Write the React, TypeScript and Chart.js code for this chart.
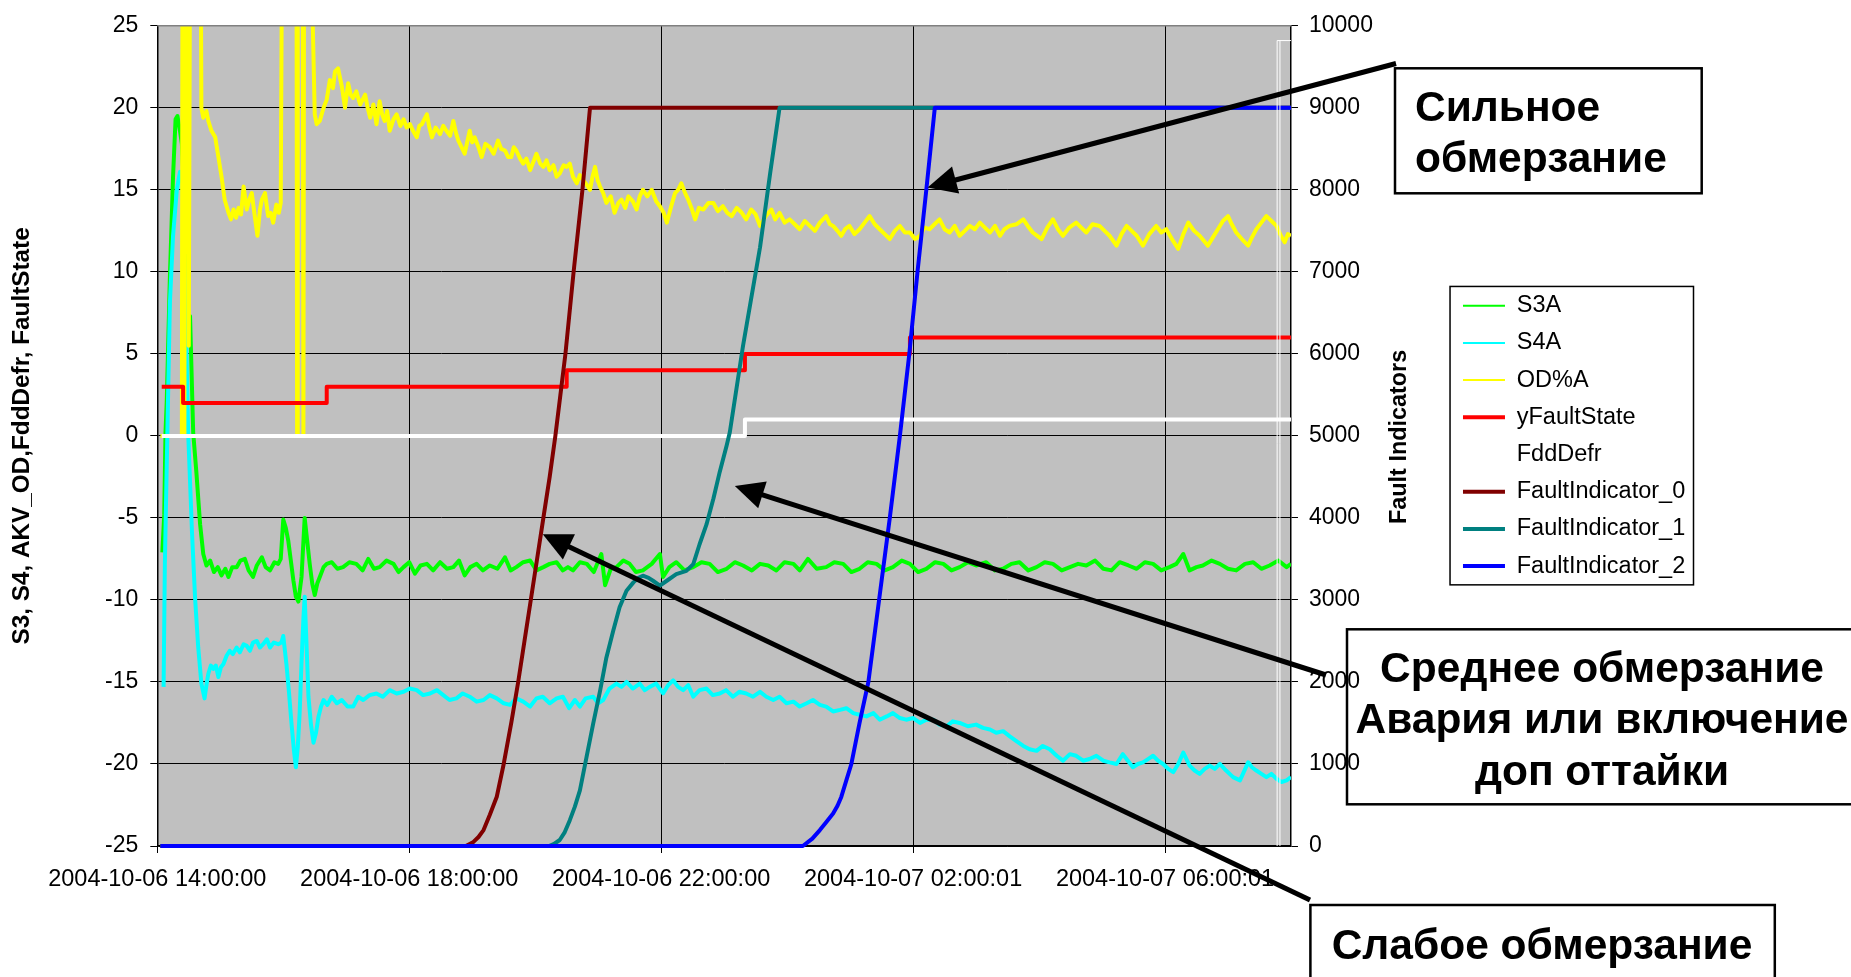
import React, { useEffect, useRef } from 'react';
import { Chart, registerables } from 'chart.js';

Chart.register(...registerables);

// ---- x axis (hours after 2004-10-06 14:00:00) ----
const xTickHours = [0, 4, 8, 12, 16];
const xTickLabels = [
  '2004-10-06 14:00:00',
  '2004-10-06 18:00:00',
  '2004-10-06 22:00:00',
  '2004-10-07 02:00:01',
  '2004-10-07 06:00:01',
];

// ---- series (hour, value) ----
const s3a: [number, number][] = [
  [0.08,-7.1],[0.11,-4.8],[0.13,0.2],[0.15,2.1],[0.2,9.7],[0.25,15.8],[0.29,19.3],[0.32,19.5],[0.36,18.6],[0.39,17.8],
  [0.43,14.5],[0.47,10.1],[0.49,5.7],[0.52,7.3],[0.57,0.2],[0.62,-2.2],[0.68,-5.4],[0.73,-7.2],[0.78,-7.9],[0.84,-7.6],
  [0.9,-8.3],[0.96,-8.0],[1.02,-8.5],[1.08,-8.1],[1.13,-8.6],[1.19,-8.0],[1.26,-8.0],[1.32,-7.6],[1.39,-7.5],[1.45,-8.2],
  [1.52,-8.6],[1.58,-7.9],[1.66,-7.4],[1.72,-8.0],[1.79,-8.2],[1.86,-7.7],[1.92,-7.8],[1.96,-7.5],[2.0,-5.1],[2.04,-5.6],
  [2.08,-6.4],[2.12,-7.6],[2.16,-8.8],[2.2,-9.8],[2.24,-10.1],[2.27,-9.2],[2.29,-8.6],[2.34,-5.0],[2.38,-6.4],[2.42,-7.8],
  [2.46,-9.0],[2.5,-9.7],[2.54,-9.0],[2.58,-8.6],[2.64,-8.0],[2.69,-7.8],[2.77,-7.7],[2.86,-8.1],[2.95,-8.0],[3.05,-7.7],
  [3.16,-7.8],[3.26,-8.2],[3.35,-7.5],[3.44,-8.1],[3.53,-8.0],[3.64,-7.6],[3.75,-7.8],[3.83,-8.3],[3.91,-8.0],[4.0,-7.7],
  [4.09,-8.4],[4.18,-7.9],[4.28,-7.8],[4.38,-8.2],[4.49,-7.7],[4.6,-8.1],[4.7,-8.0],[4.79,-7.6],[4.88,-8.5],[4.97,-8.0],
  [5.07,-7.8],[5.17,-8.2],[5.28,-7.9],[5.4,-8.1],[5.52,-7.4],[5.61,-8.2],[5.7,-8.0],[5.81,-7.7],[5.92,-7.6],[6.02,-8.2],
  [6.13,-8.0],[6.23,-7.8],[6.34,-7.7],[6.44,-8.2],[6.52,-8.0],[6.6,-8.2],[6.71,-7.7],[6.82,-7.8],[6.93,-8.3],[7.05,-7.2],
  [7.11,-9.1],[7.2,-8.1],[7.29,-8.0],[7.4,-7.6],[7.5,-7.8],[7.6,-8.3],[7.71,-8.2],[7.85,-7.8],[7.98,-7.2],[8.03,-8.6],
  [8.13,-8.0],[8.24,-7.7],[8.37,-8.2],[8.51,-8.0],[8.64,-7.7],[8.77,-7.8],[8.9,-8.3],[9.04,-8.1],[9.17,-7.7],[9.3,-7.9],
  [9.44,-8.2],[9.57,-7.8],[9.7,-7.9],[9.83,-8.2],[9.96,-7.7],[10.1,-7.8],[10.2,-8.2],[10.33,-7.5],[10.47,-8.1],[10.62,-8.0],
  [10.75,-7.7],[10.89,-7.8],[11.02,-8.3],[11.15,-8.1],[11.28,-7.7],[11.42,-7.8],[11.55,-8.2],[11.68,-8.0],[11.82,-7.6],[11.95,-7.8],
  [12.08,-8.3],[12.21,-8.1],[12.35,-7.7],[12.48,-7.8],[12.61,-8.2],[12.74,-8.0],[12.87,-7.7],[13.0,-7.9],[13.16,-7.7],[13.3,-8.2],
  [13.43,-8.1],[13.56,-7.8],[13.69,-7.7],[13.83,-8.2],[13.96,-8.0],[14.09,-7.7],[14.22,-7.8],[14.36,-8.2],[14.49,-8.0],[14.62,-7.8],
  [14.75,-7.9],[14.89,-7.6],[15.02,-8.1],[15.15,-8.2],[15.28,-7.7],[15.42,-7.9],[15.55,-8.1],[15.68,-7.7],[15.81,-7.8],[15.94,-8.2],
  [16.07,-8.0],[16.18,-7.8],[16.29,-7.2],[16.39,-8.2],[16.5,-8.0],[16.6,-7.9],[16.74,-7.6],[16.87,-7.8],[17.0,-8.1],[17.13,-8.2],
  [17.27,-7.8],[17.4,-7.7],[17.53,-8.1],[17.66,-7.9],[17.8,-7.6],[17.93,-8.0],[18.0,-7.8],
];

const s4a: [number, number][] = [
  [0.1,-15.3],[0.12,-7.8],[0.16,0.2],[0.2,8.1],[0.25,12.2],[0.31,15.0],[0.36,16.1],[0.4,15.4],[0.44,9.5],[0.49,0.2],
  [0.55,-5.8],[0.6,-9.9],[0.65,-12.9],[0.7,-15.1],[0.75,-16.0],[0.78,-15.2],[0.81,-14.5],[0.85,-14.0],[0.89,-14.2],[0.93,-14.0],
  [0.97,-14.7],[1.01,-14.1],[1.05,-13.9],[1.1,-13.4],[1.15,-13.1],[1.2,-13.3],[1.26,-12.9],[1.31,-13.2],[1.37,-12.7],[1.42,-12.8],
  [1.47,-13.1],[1.52,-12.6],[1.58,-12.5],[1.63,-12.9],[1.68,-12.7],[1.74,-12.4],[1.79,-12.9],[1.85,-12.6],[1.92,-12.7],[1.97,-12.6],
  [2.0,-12.2],[2.05,-13.9],[2.09,-15.6],[2.13,-17.5],[2.17,-19.2],[2.2,-20.2],[2.23,-19.0],[2.26,-16.9],[2.29,-13.8],[2.32,-11.1],
  [2.34,-9.8],[2.37,-12.8],[2.4,-15.9],[2.44,-17.6],[2.48,-18.7],[2.52,-18.1],[2.56,-17.1],[2.6,-16.5],[2.64,-16.1],[2.7,-16.4],
  [2.77,-15.9],[2.85,-16.3],[2.93,-16.1],[3.02,-16.5],[3.11,-16.5],[3.19,-15.9],[3.27,-16.1],[3.37,-15.8],[3.48,-15.7],[3.58,-15.9],
  [3.69,-15.5],[3.8,-15.7],[3.91,-15.6],[4.01,-15.4],[4.12,-15.5],[4.22,-15.8],[4.33,-15.7],[4.44,-15.5],[4.54,-15.8],[4.64,-16.1],
  [4.75,-16.0],[4.85,-15.7],[4.96,-15.9],[5.07,-16.2],[5.18,-16.1],[5.28,-15.8],[5.39,-16.0],[5.5,-16.3],[5.6,-16.4],[5.7,-16.0],
  [5.81,-16.2],[5.92,-16.5],[6.02,-16.0],[6.12,-15.9],[6.23,-16.3],[6.34,-16.0],[6.44,-15.9],[6.54,-16.6],[6.63,-16.1],[6.71,-16.5],
  [6.8,-16.0],[6.92,-15.9],[7.0,-16.3],[7.08,-16.1],[7.18,-15.4],[7.29,-15.1],[7.37,-15.3],[7.45,-15.0],[7.55,-15.4],[7.66,-15.1],
  [7.74,-15.5],[7.82,-15.3],[7.92,-15.1],[8.03,-15.7],[8.11,-15.2],[8.19,-14.9],[8.27,-15.3],[8.35,-15.5],[8.43,-15.2],[8.51,-15.9],
  [8.61,-15.5],[8.72,-15.4],[8.82,-15.8],[8.93,-15.7],[9.03,-15.5],[9.14,-15.9],[9.24,-15.6],[9.35,-15.7],[9.46,-15.9],[9.57,-15.6],
  [9.67,-15.9],[9.78,-16.1],[9.88,-15.9],[9.99,-16.3],[10.1,-16.2],[10.2,-16.5],[10.31,-16.3],[10.41,-16.1],[10.52,-16.4],[10.62,-16.5],
  [10.73,-16.8],[10.84,-16.7],[10.94,-16.6],[11.05,-16.9],[11.15,-17.0],[11.26,-17.1],[11.37,-16.9],[11.47,-17.3],[11.58,-17.1],[11.68,-16.9],
  [11.79,-17.2],[11.89,-17.3],[12.0,-17.2],[12.11,-17.5],[12.21,-17.3],[12.32,-17.3],[12.42,-17.6],[12.53,-17.7],[12.63,-17.4],[12.74,-17.5],
  [12.87,-17.7],[13.0,-17.6],[13.11,-17.8],[13.22,-17.9],[13.32,-18.1],[13.43,-18.0],[13.53,-18.3],[13.64,-18.6],[13.75,-18.9],[13.85,-19.1],
  [13.96,-19.2],[14.06,-18.9],[14.17,-19.1],[14.28,-19.5],[14.38,-19.8],[14.49,-19.4],[14.59,-19.5],[14.7,-19.8],[14.8,-19.7],[14.91,-19.5],
  [15.02,-19.8],[15.12,-19.9],[15.23,-20.0],[15.33,-19.4],[15.41,-19.8],[15.49,-20.2],[15.57,-20.0],[15.65,-19.9],[15.73,-19.7],[15.81,-19.5],
  [15.89,-19.8],[15.97,-20.0],[16.05,-20.3],[16.13,-20.5],[16.21,-20.0],[16.29,-19.3],[16.39,-20.1],[16.47,-20.4],[16.55,-20.6],[16.63,-20.3],
  [16.71,-20.1],[16.79,-20.3],[16.87,-20.0],[16.97,-20.4],[17.08,-20.8],[17.19,-21.0],[17.25,-20.5],[17.32,-19.9],[17.38,-20.2],[17.45,-20.4],
  [17.53,-20.6],[17.61,-20.8],[17.69,-20.6],[17.77,-20.9],[17.85,-21.1],[17.93,-21.0],[18.0,-20.8],
];

const odA: [number, number][] = [
  [0.05,0],[0.39,0],[0.4,30],[0.42,30],[0.43,0],[0.44,30],[0.45,30],[0.47,22.5],[0.48,30],[0.49,30],
  [0.5,5.5],[0.52,30],[0.69,30],[0.7,20.0],[0.73,19.4],[0.78,19.8],[0.81,19.2],[0.86,18.6],[0.92,18.2],[0.97,17.0],
  [1.02,15.8],[1.07,14.4],[1.13,13.6],[1.17,13.2],[1.21,13.8],[1.25,13.3],[1.29,13.9],[1.33,13.5],[1.37,15.2],[1.42,13.8],
  [1.46,14.4],[1.5,14.8],[1.54,13.6],[1.59,12.2],[1.63,13.8],[1.66,14.4],[1.71,14.8],[1.76,13.4],[1.8,13.6],[1.84,13.0],
  [1.89,14.1],[1.93,13.6],[1.96,14.2],[1.98,30],[2.21,30],[2.22,0],[2.23,30],[2.31,30],[2.32,0],[2.33,30],
  [2.44,30],[2.5,19.6],[2.53,19.0],[2.58,19.2],[2.64,20.0],[2.69,20.5],[2.74,21.7],[2.79,21.2],[2.82,22.2],[2.87,22.4],
  [2.93,21.3],[2.98,20.0],[3.03,21.5],[3.07,20.8],[3.11,20.6],[3.16,21.0],[3.22,20.2],[3.3,20.8],[3.34,20.0],[3.38,19.4],
  [3.43,20.2],[3.48,19.0],[3.53,20.4],[3.57,19.6],[3.61,19.2],[3.65,19.8],[3.69,18.6],[3.75,19.3],[3.8,19.6],[3.86,18.9],
  [3.91,19.3],[3.96,18.8],[4.01,19.0],[4.06,18.6],[4.12,18.2],[4.16,18.9],[4.2,19.0],[4.28,19.6],[4.32,18.8],[4.36,18.2],
  [4.42,18.8],[4.49,18.4],[4.54,18.9],[4.59,18.6],[4.65,18.3],[4.7,19.2],[4.74,18.5],[4.78,18.0],[4.83,17.6],[4.88,17.2],
  [4.92,17.9],[4.96,18.6],[5.0,17.9],[5.04,18.2],[5.1,17.6],[5.15,17.0],[5.21,17.8],[5.28,17.6],[5.34,17.2],[5.41,18.0],
  [5.46,17.5],[5.52,17.4],[5.57,17.0],[5.62,17.0],[5.66,17.6],[5.7,17.4],[5.76,16.9],[5.81,16.6],[5.86,16.9],[5.92,16.2],
  [5.97,16.7],[6.02,17.2],[6.08,16.6],[6.13,16.4],[6.18,16.8],[6.23,16.2],[6.29,16.5],[6.34,15.8],[6.39,16.0],[6.45,16.5],
  [6.5,16.4],[6.55,16.6],[6.6,15.8],[6.66,15.4],[6.71,15.9],[6.76,15.6],[6.82,15.3],[6.87,15.0],[6.91,15.8],[6.95,16.4],
  [6.99,15.6],[7.03,15.2],[7.08,14.8],[7.13,14.2],[7.2,14.6],[7.26,13.6],[7.32,14.2],[7.37,14.4],[7.43,13.9],[7.48,14.6],
  [7.55,14.3],[7.61,13.8],[7.66,14.6],[7.71,15.0],[7.78,14.6],[7.85,15.0],[7.92,14.3],[7.98,14.0],[8.04,13.6],[8.09,13.0],
  [8.16,14.0],[8.22,14.8],[8.27,15.0],[8.32,15.4],[8.38,14.8],[8.43,14.4],[8.49,13.8],[8.54,13.2],[8.6,13.9],[8.67,13.8],
  [8.75,14.2],[8.83,14.2],[8.9,13.7],[8.98,14.0],[9.05,13.6],[9.12,13.4],[9.2,13.9],[9.28,13.6],[9.35,13.2],[9.43,13.8],
  [9.5,13.5],[9.57,12.8],[9.66,13.4],[9.75,13.8],[9.81,13.2],[9.88,13.6],[9.96,13.0],[10.04,13.2],[10.12,12.9],[10.2,12.6],
  [10.28,13.1],[10.36,12.8],[10.44,12.5],[10.52,13.0],[10.62,13.4],[10.68,12.9],[10.73,12.8],[10.8,12.5],[10.86,12.2],[10.92,12.6],
  [10.99,12.8],[11.07,12.3],[11.15,12.6],[11.23,13.0],[11.31,13.4],[11.39,12.9],[11.47,12.6],[11.55,12.3],[11.63,12.0],[11.71,12.5],
  [11.79,12.8],[11.87,12.4],[11.95,12.4],[12.03,12.0],[12.11,12.2],[12.18,12.7],[12.26,12.6],[12.34,12.9],[12.42,13.2],[12.5,12.6],
  [12.58,12.4],[12.66,12.8],[12.74,12.2],[12.82,12.5],[12.9,12.8],[12.98,12.6],[13.06,13.0],[13.14,12.7],[13.22,12.4],[13.3,12.8],
  [13.38,12.2],[13.45,12.6],[13.53,12.8],[13.64,12.9],[13.75,13.2],[13.82,12.8],[13.9,12.4],[13.97,12.2],[14.04,12.0],[14.13,12.7],
  [14.22,13.2],[14.3,12.6],[14.38,12.2],[14.48,12.7],[14.59,13.0],[14.67,12.7],[14.75,12.4],[14.85,12.9],[14.96,12.8],[15.04,12.5],
  [15.12,12.2],[15.23,11.6],[15.31,12.3],[15.39,12.8],[15.47,12.5],[15.55,12.2],[15.65,11.6],[15.75,12.3],[15.86,12.8],[15.94,12.4],
  [16.02,12.6],[16.11,12.0],[16.21,11.4],[16.29,12.3],[16.37,13.0],[16.46,12.5],[16.55,12.2],[16.68,11.6],[16.76,12.1],[16.84,12.6],
  [16.92,13.1],[17.0,13.4],[17.06,12.9],[17.13,12.4],[17.22,12.0],[17.32,11.6],[17.38,12.1],[17.45,12.6],[17.53,13.0],[17.61,13.4],
  [17.69,13.1],[17.77,12.8],[17.84,12.2],[17.9,11.8],[17.95,12.3],[18.0,12.2],
];

const yFaultState: [number, number][] = [
  [0.07,3],[0.41,3],[0.41,2],[2.69,2],[2.69,3],[6.5,3],[6.5,4],[9.33,4],[9.33,5],[11.95,5],[11.95,6],[18.0,6],
];

const fddDefr: [number, number][] = [
  [0.07,0],[9.33,0],[9.33,1],[18.0,1],
];

const faultIndicator0: [number, number][] = [
  [0.05,0],[4.9,0],[5.02,50],[5.1,110],[5.18,194],[5.28,380],[5.39,600],[5.5,1000],[5.62,1500],[5.73,2000],
  [5.83,2500],[5.93,3000],[6.03,3500],[6.13,4000],[6.23,4500],[6.32,5000],[6.4,5500],[6.48,6000],[6.61,7000],[6.75,8000],
  [6.87,9000],[18.0,9000],
];

const faultIndicator1: [number, number][] = [
  [0.05,0],[6.22,0],[6.3,25],[6.39,73],[6.47,170],[6.55,315],[6.63,480],[6.71,679],[6.815,1083],[6.92,1488],
  [7.03,1892],[7.13,2296],[7.24,2628],[7.34,2911],[7.45,3113],[7.56,3214],[7.64,3270],[7.71,3295],[7.8,3270],[7.87,3234],
  [7.98,3174],[8.09,3234],[8.24,3315],[8.4,3355],[8.51,3436],[8.61,3679],[8.72,3921],[8.83,4237],[8.93,4561],[9.04,4884],
  [9.09,5045],[9.3,6100],[9.57,7300],[9.73,8200],[9.88,9000],[18.0,9000],
];

const faultIndicator2: [number, number][] = [
  [0.05,0],[10.25,0],[10.4,90],[10.52,194],[10.62,290],[10.73,396],[10.8,490],[10.86,598],[10.94,800],[11.02,1000],
  [11.15,1500],[11.29,2000],[11.46,3000],[11.63,4000],[11.79,5000],[11.94,6000],[12.07,7000],[12.21,8000],[12.345,9000],[18.0,9000],
];

// ---- annotation texts ----
const noteStrong = ['Сильное', 'обмерзание'];
const noteMedium = ['Среднее обмерзание', 'Авария или включение', 'доп оттайки'];
const noteWeak = ['Слабое обмерзание'];
// arrow tips in data coordinates (hour, left-axis value)
const tipStrong: [number, number] = [12.23, 15.15];
const tipMedium: [number, number] = [9.17, -3.06];
const tipWeak: [number, number] = [6.12, -6.0];

const FONT = '"Liberation Sans", Arial, Helvetica, sans-serif';

const seriesDefs = [
  { label: 'S3A', data: s3a, color: '#00FF00', width: 4, legendWidth: 2, axis: 'y' },
  { label: 'S4A', data: s4a, color: '#00FFFF', width: 4, legendWidth: 2, axis: 'y' },
  { label: 'OD%A', data: odA, color: '#FFFF00', width: 4, legendWidth: 2, axis: 'y' },
  { label: 'yFaultState', data: yFaultState, color: '#FF0000', width: 4, legendWidth: 4, axis: 'y' },
  { label: 'FddDefr', data: fddDefr, color: '#FFFFFF', width: 4, legendWidth: 4, axis: 'y' },
  { label: 'FaultIndicator_0', data: faultIndicator0, color: '#800000', width: 4, legendWidth: 4, axis: 'y2' },
  { label: 'FaultIndicator_1', data: faultIndicator1, color: '#008080', width: 4, legendWidth: 4, axis: 'y2' },
  { label: 'FaultIndicator_2', data: faultIndicator2, color: '#0000FF', width: 4, legendWidth: 4, axis: 'y2' },
];

function drawArrow(ctx: CanvasRenderingContext2D, x0: number, y0: number, x1: number, y1: number) {
  const dx = x0 - x1;
  const dy = y0 - y1;
  const len = Math.hypot(dx, dy);
  const ux = dx / len;
  const uy = dy / len;
  const headLen = 29;
  const halfW = 14;
  const bx = x1 + ux * headLen;
  const by = y1 + uy * headLen;
  ctx.save();
  ctx.strokeStyle = '#000';
  ctx.fillStyle = '#000';
  ctx.lineWidth = 5;
  ctx.beginPath();
  ctx.moveTo(x0, y0);
  ctx.lineTo(x1 + ux * (headLen - 4), y1 + uy * (headLen - 4));
  ctx.stroke();
  ctx.beginPath();
  ctx.moveTo(x1, y1);
  ctx.lineTo(bx - uy * halfW, by + ux * halfW);
  ctx.lineTo(bx + uy * halfW, by - ux * halfW);
  ctx.closePath();
  ctx.fill();
  ctx.restore();
}

const decorPlugin = {
  id: 'decor',
  beforeDraw(chart: any) {
    const { ctx, chartArea: a } = chart;
    ctx.save();
    ctx.fillStyle = '#C0C0C0';
    ctx.fillRect(a.left, a.top, a.right - a.left, a.bottom - a.top);
    ctx.restore();
  },
  afterDraw(chart: any) {
    const { ctx, chartArea: a } = chart;
    const xs = chart.scales.x;
    const ys = chart.scales.y;

    ctx.save();
    // top border of plot area
    ctx.strokeStyle = '#808080';
    ctx.lineWidth = 1.5;
    ctx.beginPath();
    ctx.moveTo(a.left, a.top);
    ctx.lineTo(a.right, a.top);
    ctx.stroke();

    // thin white frame near the end of the record
    ctx.strokeStyle = '#FFFFFF';
    ctx.lineWidth = 1;
    const fx1 = xs.getPixelForValue(17.78);
    const fx2 = xs.getPixelForValue(17.825);
    const fy = ys.getPixelForValue(24.1);
    ctx.beginPath();
    ctx.moveTo(fx1, a.bottom);
    ctx.lineTo(fx1, fy);
    ctx.lineTo(a.right, fy);
    ctx.moveTo(fx2, a.bottom);
    ctx.lineTo(fx2, fy);
    ctx.stroke();

    // axis titles
    ctx.fillStyle = '#000';
    ctx.textAlign = 'center';
    ctx.textBaseline = 'middle';
    ctx.save();
    ctx.translate(22, (a.top + a.bottom) / 2);
    ctx.rotate(-Math.PI / 2);
    ctx.font = `bold 24.3px ${FONT}`;
    ctx.fillText('S3, S4, AKV_OD,FddDefr, FaultState', 0, 0);
    ctx.restore();
    ctx.save();
    ctx.translate(1400, (a.top + a.bottom) / 2 + 1);
    ctx.rotate(-Math.PI / 2);
    ctx.font = `bold 23.4px ${FONT}`;
    ctx.fillText('Fault Indicators', 0, 0);
    ctx.restore();

    // legend frame
    const lg = chart.legend;
    if (lg && lg.legendHitBoxes && lg.legendHitBoxes.length) {
      const hb = lg.legendHitBoxes;
      const top = hb[0].top - 7.5;
      const bottom = hb[hb.length - 1].top + hb[hb.length - 1].height + 7;
      ctx.strokeStyle = '#000';
      ctx.lineWidth = 1.5;
      ctx.strokeRect(lg.left + 0.75, top, lg.right - lg.left - 2.5, bottom - top);
    }

    // annotation boxes
    ctx.strokeStyle = '#000';
    ctx.lineWidth = 2.5;
    ctx.strokeRect(1395, 68.3, 306.7, 125);
    ctx.strokeRect(1347, 629.3, 540, 175);
    ctx.strokeRect(1310.4, 905, 464.4, 120);

    ctx.font = `bold 42.5px ${FONT}`;
    ctx.textBaseline = 'alphabetic';
    ctx.textAlign = 'left';
    noteStrong.forEach((t, i) => ctx.fillText(t, 1415, 120.7 + i * 51.7));
    ctx.textAlign = 'center';
    noteMedium.forEach((t, i) => ctx.fillText(t, 1602, 681.7 + i * 51.7));
    noteWeak.forEach((t, i) => ctx.fillText(t, 1542, 958.5 + i * 51.7));
    ctx.restore();

    // arrows
    drawArrow(ctx, 1396, 63.5, xs.getPixelForValue(tipStrong[0]), ys.getPixelForValue(tipStrong[1]));
    drawArrow(ctx, 1326, 675, xs.getPixelForValue(tipMedium[0]), ys.getPixelForValue(tipMedium[1]));
    drawArrow(ctx, 1310, 900, xs.getPixelForValue(tipWeak[0]), ys.getPixelForValue(tipWeak[1]));
  },
};

export default function App() {
  const canvasRef = useRef<HTMLCanvasElement | null>(null);

  useEffect(() => {
    const canvas = canvasRef.current;
    if (!canvas) return;
    const n = seriesDefs.length;
    const datasets = seriesDefs.map((s, i) => ({
      label: s.label,
      data: s.data.map(([x, y]) => ({ x, y })),
      borderColor: s.color,
      backgroundColor: s.color,
      borderWidth: s.width,
      pointRadius: 0,
      pointHoverRadius: 0,
      tension: 0,
      borderJoinStyle: 'round' as const,
      fill: false,
      yAxisID: s.axis,
      order: n - i,
      clip: { left: 0, top: 0, right: 0, bottom: 3 },
    }));

    const tickFont = { family: FONT, size: 23 };

    const chart = new Chart(canvas, {
      type: 'line',
      data: { datasets },
      plugins: [decorPlugin],
      options: {
        animation: false,
        responsive: false,
        maintainAspectRatio: false,
        events: [],
        layout: { padding: { top: 21.7, left: 0, right: 155.75, bottom: 0 } },
        scales: {
          x: {
            type: 'linear',
            position: 'bottom',
            min: 0,
            max: 18,
            afterBuildTicks: (axis: any) => {
              axis.ticks = xTickHours.map((v) => ({ value: v }));
            },
            afterFit: (axis: any) => {
              axis.height = 131;
            },
            ticks: {
              autoSkip: false,
              maxRotation: 0,
              minRotation: 0,
              padding: 12,
              color: '#000',
              font: { family: FONT, size: 23.5 },
              callback: (v: any) => {
                const k = xTickHours.indexOf(Number(v));
                return k >= 0 ? xTickLabels[k] : '';
              },
            },
            grid: { color: '#000', lineWidth: 1, tickLength: 7, drawTicks: true },
            border: { display: true, color: '#000', width: 1.5 },
          },
          y: {
            type: 'linear',
            position: 'left',
            min: -25,
            max: 25,
            afterFit: (axis: any) => {
              axis.width = 157.3;
            },
            ticks: {
              stepSize: 5,
              padding: 12,
              color: '#000',
              font: tickFont,
              callback: (v: any) => String(v),
            },
            grid: { color: '#000', lineWidth: 1, tickLength: 7, drawTicks: true },
            border: { display: true, color: '#000', width: 1.5 },
          },
          y2: {
            type: 'linear',
            position: 'right',
            min: 0,
            max: 10000,
            afterFit: (axis: any) => {
              axis.width = 158.3;
            },
            ticks: {
              stepSize: 1000,
              padding: 11,
              color: '#000',
              font: tickFont,
              callback: (v: any) => String(v),
            },
            grid: { drawOnChartArea: false, color: '#000', lineWidth: 1, tickLength: 7, drawTicks: true },
            border: { display: true, color: '#000', width: 1.5 },
          },
        },
        plugins: {
          tooltip: { enabled: false },
          legend: {
            display: true,
            position: 'right',
            align: 'center',
            fullSize: false,
            labels: {
              usePointStyle: true,
              pointStyle: 'line',
              pointStyleWidth: 42,
              padding: 13.7,
              color: '#000',
              font: { family: FONT, size: 23.5 },
              sort: (a: any, b: any) => a.datasetIndex - b.datasetIndex,
              generateLabels: (ch: any) => {
                const items = (Chart.defaults.plugins.legend.labels as any).generateLabels(ch);
                return items.map((it: any) => ({
                  ...it,
                  lineWidth: seriesDefs[it.datasetIndex].legendWidth,
                  pointStyle: 'line',
                }));
              },
            },
          },
        },
      } as any,
    });

    return () => {
      chart.destroy();
    };
  }, []);

  return (
    <div style={{ position: 'fixed', left: 0, top: 0, width: 1851, height: 977, background: '#fff' }}>
      <canvas ref={canvasRef} width={1851} height={977} style={{ display: 'block', width: 1851, height: 977 }} />
    </div>
  );
}
